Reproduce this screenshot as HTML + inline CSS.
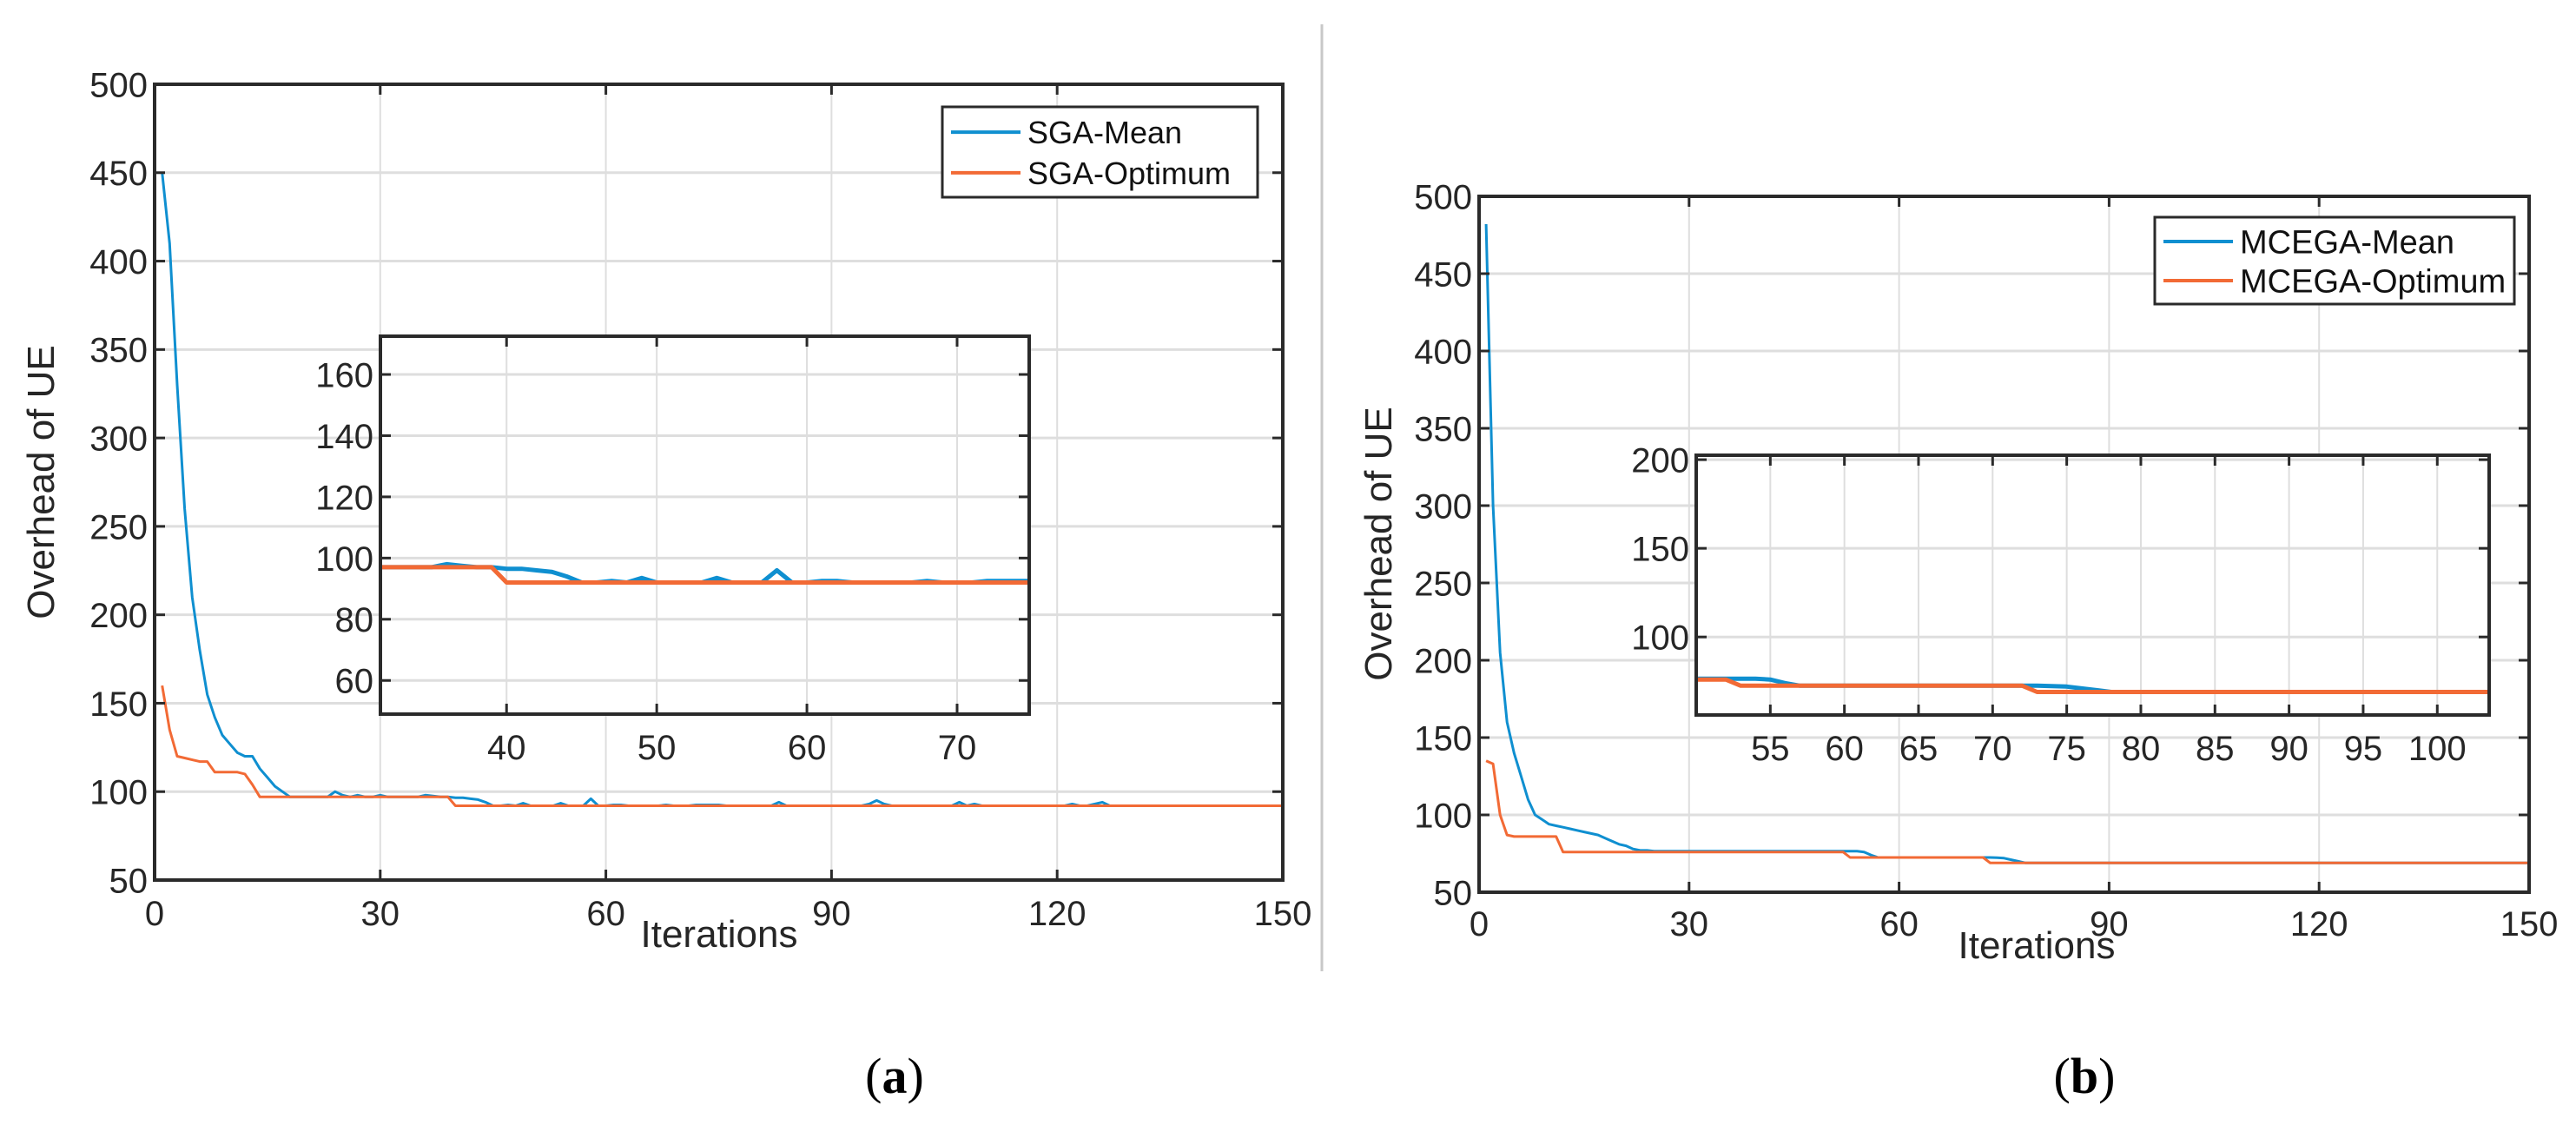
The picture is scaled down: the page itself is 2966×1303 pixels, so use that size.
<!DOCTYPE html>
<html><head><meta charset="utf-8"><title>SGA vs MCEGA</title>
<style>
html,body{margin:0;padding:0;background:#fff;}
svg{display:block;font-family:"Liberation Sans",Arial,sans-serif;}
</style></head>
<body>
<svg id="fig" width="2966" height="1303" viewBox="0 0 2966 1303" xmlns="http://www.w3.org/2000/svg">
<line x1="1522" y1="28" x2="1522" y2="1118" stroke="#c8c8c8" stroke-width="3"/>
<text x="1030" y="1258" font-family="Liberation Serif,serif" font-size="58" text-anchor="middle">(<tspan font-weight="bold">a</tspan>)</text>
<text x="2400" y="1258" font-family="Liberation Serif,serif" font-size="58" text-anchor="middle">(<tspan font-weight="bold">b</tspan>)</text>
</svg>
<script>
// ---------- data: panel (a) SGA ----------
const xTicksMain = [0,30,60,90,120,150];
const yTicksMain = [50,100,150,200,250,300,350,400,450,500];
const sgaMean = [450,410,330,260,210,180,155,142,132,127,
122,120,120,113,108,103,100,97,97,97,
97,97,97,100,98,97,98,97,97,98,
97,97,97,97,97,98,97.5,97,97,96.5,
96.5,96,95.5,94,92,92,92.5,92,93.5,92,
92,92,92,93.5,92,92,92,96,92,92,
92.5,92.5,92,92,92,92,92,92.5,92,92,
92,92.5,92.5,92.5,92.5,92,92,92,92,92,
92,92,94,92,92,92,92,92,92,92,
92,92,92,92,93,95,93,92,92,92,
92,92,92,92,92,92,94,92,93,92,
92,92,92,92,92,92,92,92,92,92,
92,93,92,92,93,94,92,92,92,92,
92,92,92,92,92,92,92,92,92,92,
92,92,92,92,92,92,92,92,92,92];
const sgaOpt = [160,135,120,119,118,117,117,111,111,111,
111,110,104,97,97,97,97,97,97,97,
97,97,97,97,97,97,97,97,97,97,
97,97,97,97,97,97,97,97,97,92,
92,92,92,92,92,92,92,92,92,92,
92,92,92,92,92,92,92,92,92,92,
92,92,92,92,92,92,92,92,92,92,
92,92,92,92,92,92,92,92,92,92,
92,92,92,92,92,92,92,92,92,92,
92,92,92,92,92,92,92,92,92,92,
92,92,92,92,92,92,92,92,92,92,
92,92,92,92,92,92,92,92,92,92,
92,92,92,92,92,92,92,92,92,92,
92,92,92,92,92,92,92,92,92,92,
92,92,92,92,92,92,92,92,92,92];
const insetAXTicks = [40,50,60,70];
const insetAYTicks = [60,80,100,120,140,160];
// ---------- data: panel (b) MCEGA ----------
const mcegaMean = [482,300,205,160,140,125,110,100,97,94,
93,92,91,90,89,88,87,85,83,81,
80,78,77,77,76.5,76.5,76.5,76.5,76.5,76.5,
76.5,76.5,76.5,76.5,76.5,76.5,76.5,76.5,76.5,76.5,
76.5,76.5,76.5,76.5,76.5,76.5,76.5,76.5,76.5,76.5,
76.5,76.5,76.5,76.5,76,74,72.5,72.5,72.5,72.5,
72.5,72.5,72.5,72.5,72.5,72.5,72.5,72.5,72.5,72.5,
72.5,72.5,72.5,72.3,72,71,70,69,69,69,
69,69,69,69,69,69,69,69,69,69,
69,69,69,69,69,69,69,69,69,69,
69,69,69,69,69,69,69,69,69,69,
69,69,69,69,69,69,69,69,69,69,
69,69,69,69,69,69,69,69,69,69,
69,69,69,69,69,69,69,69,69,69,
69,69,69,69,69,69,69,69,69,69];
const mcegaOpt = [135,133,100,87,86,86,86,86,86,86,
86,76,76,76,76,76,76,76,76,76,
76,76,76,76,76,76,76,76,76,76,
76,76,76,76,76,76,76,76,76,76,
76,76,76,76,76,76,76,76,76,76,
76,76,72.5,72.5,72.5,72.5,72.5,72.5,72.5,72.5,
72.5,72.5,72.5,72.5,72.5,72.5,72.5,72.5,72.5,72.5,
72.5,72.5,69,69,69,69,69,69,69,69,
69,69,69,69,69,69,69,69,69,69,
69,69,69,69,69,69,69,69,69,69,
69,69,69,69,69,69,69,69,69,69,
69,69,69,69,69,69,69,69,69,69,
69,69,69,69,69,69,69,69,69,69,
69,69,69,69,69,69,69,69,69,69,
69,69,69,69,69,69,69,69,69,69];
const insetBXTicks = [55,60,65,70,75,80,85,90,95,100];
const insetBYTicks = [100,150,200];
const seriesNamesA = ["SGA-Mean","SGA-Optimum"];
const seriesNamesB = ["MCEGA-Mean","MCEGA-Optimum"];

const NS = "http://www.w3.org/2000/svg";
const svg = document.getElementById("fig");
const BLUE = "#0f8fd0", ORANGE = "#f26a35";
let clipId = 0;
function mk(tag, attrs, parent){
  const e = document.createElementNS(NS, tag);
  for (const k in attrs) e.setAttribute(k, attrs[k]);
  (parent||svg).appendChild(e);
  return e;
}
function drawAxes(o){
  const g = mk("g", {});
  
  
  const sx = v => o.x0 + (v - o.xmin) / (o.xmax - o.xmin) * (o.x1 - o.x0);
  const sy = v => o.y1 - (v - o.ymin) / (o.ymax - o.ymin) * (o.y1 - o.y0);
  mk("rect", {x:o.x0, y:o.y0, width:o.x1-o.x0, height:o.y1-o.y0, fill:"#fff"}, g);
  o.xt.forEach(t => {
    const l = mk("line", {x1:sx(t), x2:sx(t), y1:o.y0, y2:o.y1, stroke:"#dedede", "stroke-width":2}, g);
    
    
  });
  o.yt.forEach(t => {
    const l = mk("line", {x1:o.x0, x2:o.x1, y1:sy(t), y2:sy(t), stroke:"#dedede", "stroke-width":3}, g);
    
    
  });
  const cid = "clip" + (clipId++);
  const cp = mk("clipPath", {id:cid}, g);
  mk("rect", {x:o.x0, y:o.y0, width:o.x1-o.x0, height:o.y1-o.y0}, cp);
  o.series.forEach((s, si) => {
    let d = "";
    s.vals.forEach((v, i) => { d += (i ? "L" : "M") + sx(i+1).toFixed(1) + " " + sy(v).toFixed(1); });
    const p = mk("path", {d:d, fill:"none", stroke:s.color, "stroke-width":o.lw, "stroke-linejoin":"round", "clip-path":"url(#"+cid+")"}, g);
    
    
  });
  const fr = mk("rect", {x:o.x0, y:o.y0, width:o.x1-o.x0, height:o.y1-o.y0, fill:"none", stroke:"#2a2a2a", "stroke-width":4}, g);
  
  
  o.xt.forEach(t => {
    mk("line", {x1:sx(t), x2:sx(t), y1:o.y1, y2:o.y1-12, stroke:"#2a2a2a", "stroke-width":3}, g);
    mk("line", {x1:sx(t), x2:sx(t), y1:o.y0, y2:o.y0+12, stroke:"#2a2a2a", "stroke-width":3}, g);
    const tx = mk("text", {x:sx(t), y:o.y1 + o.xlOff, "font-size":o.fs, "text-anchor":"middle", fill:"#262626"}, g);
    tx.textContent = t;
    
    
  });
  o.yt.forEach(t => {
    mk("line", {x1:o.x0, x2:o.x0+12, y1:sy(t), y2:sy(t), stroke:"#2a2a2a", "stroke-width":3}, g);
    mk("line", {x1:o.x1, x2:o.x1-12, y1:sy(t), y2:sy(t), stroke:"#2a2a2a", "stroke-width":3}, g);
    const ty = mk("text", {x:o.x0 - 8, y:sy(t) + o.fs*0.36, "font-size":o.fs, "text-anchor":"end", fill:"#262626"}, g);
    ty.textContent = t;
    
    
  });
  return {sx, sy};
}
function drawLegend(x, y, w, h, names, fs){
  const g = mk("g", {});
  
  
  mk("rect", {x:x, y:y, width:w, height:h, fill:"#fff", stroke:"#2a2a2a", "stroke-width":3}, g);
  [BLUE, ORANGE].forEach((c, i) => {
    const yy = y + h*0.28 + i*h*0.45;
    const e = mk("g", {}, g);
    
    
    mk("line", {x1:x+10, x2:x+90, y1:yy, y2:yy, stroke:c, "stroke-width":4}, e);
    const t = mk("text", {x:x+98, y:yy + fs*0.36, "font-size":fs, fill:"#111"}, e);
    t.textContent = names[i];
  });
}
function yTitle(x, y, fs){
  const t = mk("text", {x:x, y:y, "font-size":fs, "text-anchor":"middle", fill:"#262626", transform:"rotate(-90 "+x+" "+y+")"});
  t.textContent = "Overhead of UE";
  
  
}
function xTitle(x, y, fs){
  const t = mk("text", {x:x, y:y, "font-size":fs, "text-anchor":"middle", fill:"#262626"});
  t.textContent = "Iterations";
  
  
}

// Panel (a)
drawAxes({name:"main-axes-a", x0:178, x1:1477, y0:97, y1:1013, xmin:0, xmax:150, ymin:50, ymax:500,
  xt:xTicksMain, yt:yTicksMain, lw:3, fs:40, xlOff:52,
  series:[{vals:sgaMean, color:BLUE, name:"sga-mean-line"},{vals:sgaOpt, color:ORANGE, name:"sga-optimum-line"}]});
yTitle(62, 555, 44);
xTitle(828, 1090, 44);
drawLegend(1085, 123, 363, 104, seriesNamesA, 36);
drawAxes({name:"inset-axes-a", x0:438, x1:1185, y0:387, y1:822, xmin:31.6, xmax:74.8, ymin:49, ymax:172.5,
  xt:insetAXTicks, yt:insetAYTicks, lw:5, fs:40, xlOff:52,
  series:[{vals:sgaMean, color:BLUE, name:"inset-sga-mean-line"},{vals:sgaOpt, color:ORANGE, name:"inset-sga-optimum-line"}]});

// Panel (b)
drawAxes({name:"main-axes-b", x0:1703, x1:2912, y0:226, y1:1027, xmin:0, xmax:150, ymin:50, ymax:500,
  xt:xTicksMain, yt:yTicksMain, lw:3, fs:40, xlOff:50,
  series:[{vals:mcegaMean, color:BLUE, name:"mcega-mean-line"},{vals:mcegaOpt, color:ORANGE, name:"mcega-optimum-line"}]});
yTitle(1602, 626, 44);
xTitle(2345, 1103, 44);
drawLegend(2481, 250, 414, 100, seriesNamesB, 38);
drawAxes({name:"inset-axes-b", x0:1953, x1:2866, y0:524, y1:823, xmin:50, xmax:103.5, ymin:56, ymax:202.5,
  xt:insetBXTicks, yt:insetBYTicks, lw:5, fs:40, xlOff:52,
  series:[{vals:mcegaMean, color:BLUE, name:"inset-mcega-mean-line"},{vals:mcegaOpt, color:ORANGE, name:"inset-mcega-optimum-line"}]});
</script>
</body></html>
